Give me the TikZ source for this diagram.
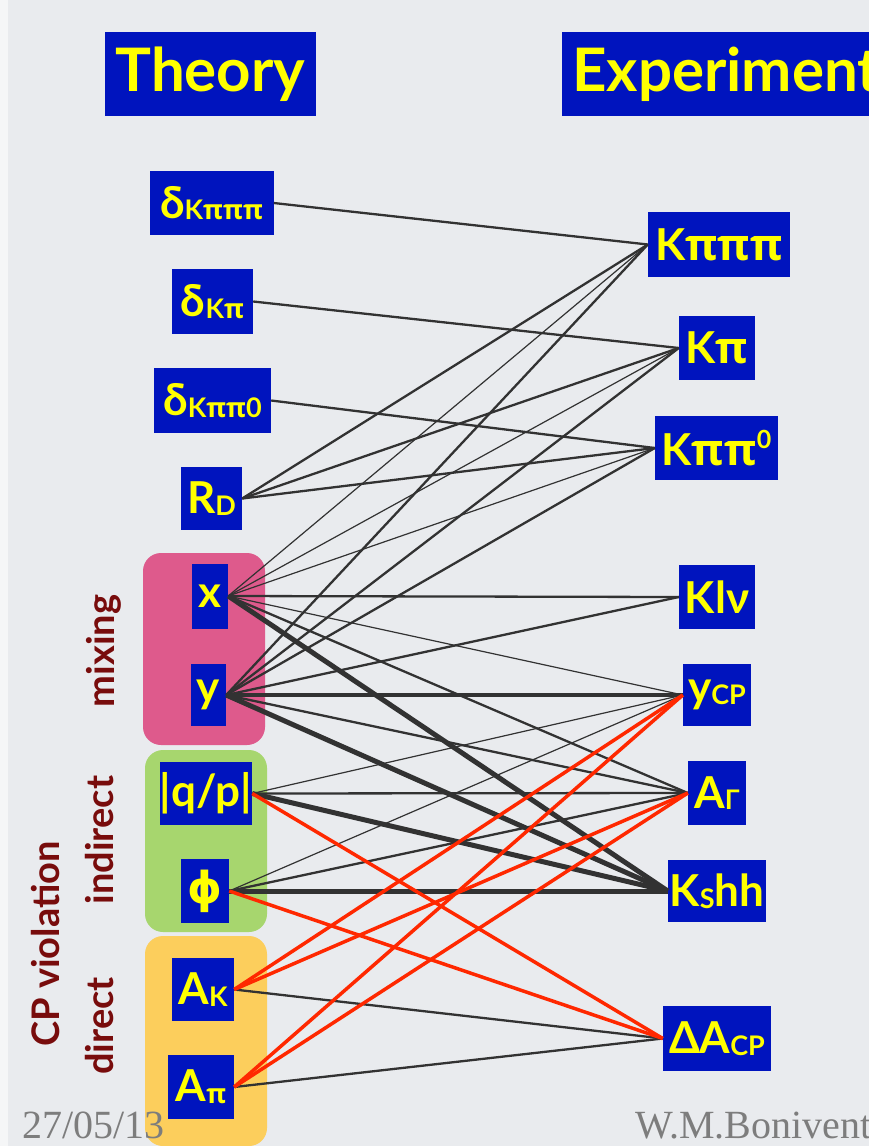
\documentclass[tikz,border=0pt]{standalone}
\usepackage{fontspec}
\setmainfont{Lato}
\newfontfamily\footfont{Liberation Serif}
\newfontfamily\altgreek{DejaVu Sans}
\newfontfamily\pifont{Open Sans}
\definecolor{slidebg}{RGB}{233,235,238}
\definecolor{slideedge}{RGB}{245,246,247}
\definecolor{boxblue}{RGB}{0,20,190}
\definecolor{boxyellow}{RGB}{255,255,0}
\definecolor{mixpink}{RGB}{222,90,140}
\definecolor{indgreen}{RGB}{167,214,110}
\definecolor{dirorange}{RGB}{252,206,92}
\definecolor{sidered}{RGB}{120,12,12}
\definecolor{linkgray}{RGB}{50,50,50}
\definecolor{linkred}{RGB}{255,40,0}
\definecolor{footgray}{RGB}{125,125,125}
% upright pi and straight phi
\newcommand\gpi{{\pifont\bfseries π}}
\newcommand\gphi{{\altgreek\bfseries ϕ}}
% small index letters inside the quantity boxes
\newcommand\qsub[1]{\raisebox{-0.04em}{\fontsize{27}{27}\selectfont #1}}
\newcommand\qsup[1]{\raisebox{0.40em}{\fontsize{25}{25}\selectfont #1}}
\tikzset{
  qty/.style={fill=boxblue, text=boxyellow, inner sep=0pt, align=center,
    font=\bfseries\fontsize{44}{44}\selectfont},
  headbox/.style={fill=boxblue, text=boxyellow, inner sep=0pt,
    font=\bfseries\fontsize{60}{60}\selectfont, minimum height=84pt},
  sidelabel/.style={text=sidered, rotate=90, inner sep=0pt,
    font=\bfseries\fontsize{38}{38}\selectfont},
  footnote/.style={text=footgray, inner sep=0pt, anchor=base west,
    font=\footfont\fontsize{40}{40}\selectfont},
  lthin/.style={draw=linkgray, line width=1.2pt},
  lmid/.style={draw=linkgray, line width=2.3pt},
  lbold/.style={draw=linkgray, line width=3.5pt},
  lheavy/.style={draw=linkgray, line width=5pt},
  lcp/.style={draw=linkred, line width=3.5pt},
}
\begin{document}
\begin{tikzpicture}[x=1pt,y=-1pt]
\clip (0,0) rectangle (869,1146);
\fill[slidebg] (0,0) rectangle (869,1146);
\fill[slideedge] (0,0) rectangle (8,1146);

% group panels
\fill[mixpink, rounded corners=18pt] (143,553) rectangle (265,745);
\fill[indgreen, rounded corners=18pt] (145,750) rectangle (267,932);
\fill[dirorange, rounded corners=18pt] (145,936) rectangle (267,1146);

% column headers
\node[headbox, minimum width=211pt] (theory) at (210.5,74) {Theory};
\node[headbox, anchor=west, inner xsep=10pt] (experiment) at (562,74) {Experiment};

% side labels
\node[sidelabel] (mixing) at (104,651) {mixing};
\node[sidelabel] (indirect) at (100,840) {indirect};
\node[sidelabel] (direct) at (100,1026) {direct};
\node[sidelabel] (cpv) at (46,944) {CP violation};

% theory quantities
\node[qty, minimum width=124pt, minimum height=64pt] (dKpppp) at (211.5,203) {δ\qsub{K\gpi\gpi\gpi}};
\node[qty, minimum width=81pt, minimum height=65pt] (dKp) at (212.5,301.5) {δ\qsub{K\gpi}};
\node[qty, minimum width=117pt, minimum height=65pt] (dKpp0) at (212.5,400.5) {δ\qsub{K\gpi\gpi0}};
\node[qty, minimum width=61pt, minimum height=63pt] (RD) at (211.5,498.5) {R\qsub{D}};
\node[qty, minimum width=36pt, minimum height=65pt] (x) at (210,596) {x};
\node[qty, minimum width=35pt, minimum height=62pt] (y) at (208.5,695) {y};
\node[qty, minimum width=91pt, minimum height=63pt] (qp) at (206,793.5) {|q/p|};
\node[qty, minimum width=48pt, minimum height=64pt] (phi) at (205,891) {\gphi};
\node[qty, minimum width=62pt, minimum height=63pt] (AK) at (203,989.5) {A\qsub{K}};
\node[qty, minimum width=66pt, minimum height=64pt] (Api) at (201,1087) {A\qsub{\gpi}};

% experimental channels
\node[qty, minimum width=142pt, minimum height=65pt] (Kpppp) at (719,244.5) {K\gpi\gpi\gpi};
\node[qty, minimum width=76pt, minimum height=64pt] (Kp) at (717,348) {K\gpi};
\node[qty, minimum width=123pt, minimum height=64pt] (Kpp0) at (716.5,448) {K\gpi\gpi\qsup{0}};
\node[qty, minimum width=76pt, minimum height=64pt] (Klnu) at (717,597) {Klν};
\node[qty, minimum width=68pt, minimum height=62pt] (yCP) at (717,695) {y\qsub{CP}};
\node[qty, minimum width=58pt, minimum height=64pt] (AG) at (717,793) {A\qsub{Γ}};
\node[qty, minimum width=98pt, minimum height=62pt] (KShh) at (717,891) {K\qsub{S}hh};
\node[qty, minimum width=108pt, minimum height=65pt] (dACP) at (717,1038.5) {ΔA\qsub{CP}};

% strong phases and R_D
\draw[lmid] (dKpppp.east) -- (Kpppp.west);
\draw[lmid] (dKp.east) -- (Kp.west);
\draw[lmid] (dKpp0.east) -- (Kpp0.west);
\draw[lmid] (RD.east) -- (Kpppp.west);
\draw[lmid] (RD.east) -- (Kp.west);
\draw[lmid] (RD.east) -- (Kpp0.west);

% mixing parameter x
\draw[lthin] (x.east) -- (Kpppp.west);
\draw[lthin] (x.east) -- (Kp.west);
\draw[lthin] (x.east) -- (Kpp0.west);
\draw[lmid] (x.east) -- (Klnu.west);
\draw[lthin] (x.east) -- (yCP.west);
\draw[lmid] (x.east) -- (AG.west);
\draw[lheavy] (x.east) -- (KShh.west);

% mixing parameter y
\draw[lmid] (y.east) -- (Kpppp.west);
\draw[lmid] (y.east) -- (Kp.west);
\draw[lmid] (y.east) -- (Kpp0.west);
\draw[lmid] (y.east) -- (Klnu.west);
\draw[lbold] (y.east) -- (yCP.west);
\draw[lmid] (y.east) -- (AG.west);
\draw[lheavy] (y.east) -- (KShh.west);

% indirect CP violation
\draw[lthin] (qp.east) -- (yCP.west);
\draw[lmid] (qp.east) -- (AG.west);
\draw[lheavy] (qp.east) -- (KShh.west);
\draw[lthin] (phi.east) -- (yCP.west);
\draw[lmid] (phi.east) -- (AG.west);
\draw[lheavy] (phi.east) -- (KShh.west);

% direct CP violation
\draw[lmid] (AK.east) -- (dACP.west);
\draw[lmid] (Api.east) -- (dACP.west);

% CP-violating links
\draw[lcp] (qp.east) -- (dACP.west);
\draw[lcp] (phi.east) -- (dACP.west);
\draw[lcp] (AK.east) -- (yCP.west);
\draw[lcp] (AK.east) -- (AG.west);
\draw[lcp] (Api.east) -- (yCP.west);
\draw[lcp] (Api.east) -- (AG.west);

% footer
\node[footnote] (date) at (22,1138) {27/05/13};
\node[footnote] (author) at (635,1138) {W.M.Bonivento};
\end{tikzpicture}
\end{document}
